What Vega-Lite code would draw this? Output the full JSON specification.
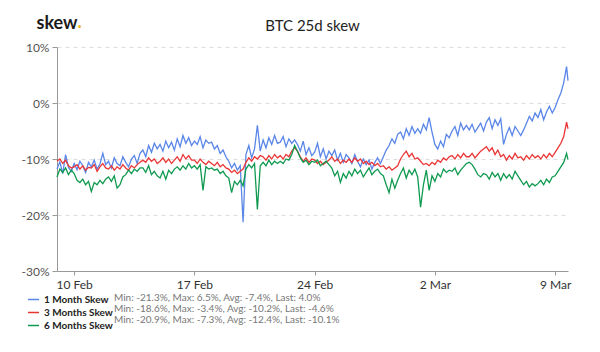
{
  "$schema": "https://vega.github.io/schema/vega-lite/v6.json",
  "width": 511,
  "height": 224,
  "autosize": {"type": "none"},
  "padding": {"left": 57, "top": 47, "right": 32, "bottom": 81},
  "background": "white",
  "config": {"font": "Lato", "view": {"stroke": null}},
  "title": {"text": "BTC 25d skew", "anchor": "middle", "font": "Lato", "fontSize": 15, "fontWeight": "normal", "color": "#222", "offset": 0, "dy": 21},
  "layer": [
    {
      "data": {"values": [
        {"t":"2020-02-09T00:00Z","m1":-11.8,"m3":-10.4,"m6":-13.2},{"t":"2020-02-09T04:00Z","m1":-10.5,"m3":-10.0,"m6":-11.8},{"t":"2020-02-09T08:00Z","m1":-12.6,"m3":-10.8,"m6":-12.4},{"t":"2020-02-09T12:00Z","m1":-9.2,"m3":-10.2,"m6":-11.6},{"t":"2020-02-09T16:00Z","m1":-11.5,"m3":-11.2,"m6":-12.8},{"t":"2020-02-09T20:00Z","m1":-12.2,"m3":-11.6,"m6":-12.0},
        {"t":"2020-02-10T00:00Z","m1":-10.8,"m3":-11.4,"m6":-12.6},{"t":"2020-02-10T04:00Z","m1":-11.9,"m3":-11.0,"m6":-13.8},{"t":"2020-02-10T08:00Z","m1":-10.4,"m3":-11.8,"m6":-14.2},{"t":"2020-02-10T12:00Z","m1":-11.2,"m3":-11.2,"m6":-13.6},{"t":"2020-02-10T16:00Z","m1":-12.4,"m3":-12.0,"m6":-14.6},{"t":"2020-02-10T20:00Z","m1":-10.6,"m3":-11.5,"m6":-14.0},
        {"t":"2020-02-11T00:00Z","m1":-11.4,"m3":-11.6,"m6":-15.8},{"t":"2020-02-11T04:00Z","m1":-10.2,"m3":-11.0,"m6":-14.2},{"t":"2020-02-11T08:00Z","m1":-11.8,"m3":-12.2,"m6":-14.6},{"t":"2020-02-11T12:00Z","m1":-10.9,"m3":-11.4,"m6":-13.8},{"t":"2020-02-11T16:00Z","m1":-9.0,"m3":-10.8,"m6":-14.4},{"t":"2020-02-11T20:00Z","m1":-11.0,"m3":-11.6,"m6":-13.6},
        {"t":"2020-02-12T00:00Z","m1":-10.4,"m3":-11.8,"m6":-13.2},{"t":"2020-02-12T04:00Z","m1":-11.6,"m3":-11.2,"m6":-14.0},{"t":"2020-02-12T08:00Z","m1":-9.8,"m3":-12.0,"m6":-13.0},{"t":"2020-02-12T12:00Z","m1":-10.8,"m3":-11.4,"m6":-15.2},{"t":"2020-02-12T16:00Z","m1":-11.2,"m3":-11.8,"m6":-14.6},{"t":"2020-02-12T20:00Z","m1":-9.6,"m3":-11.0,"m6":-13.2},
        {"t":"2020-02-13T00:00Z","m1":-10.6,"m3":-11.6,"m6":-12.8},{"t":"2020-02-13T04:00Z","m1":-11.4,"m3":-12.0,"m6":-12.0},{"t":"2020-02-13T08:00Z","m1":-10.0,"m3":-11.2,"m6":-12.6},{"t":"2020-02-13T12:00Z","m1":-9.4,"m3":-11.6,"m6":-11.8},{"t":"2020-02-13T16:00Z","m1":-10.8,"m3":-11.0,"m6":-12.2},{"t":"2020-02-13T20:00Z","m1":-9.0,"m3":-10.6,"m6":-11.6},
        {"t":"2020-02-14T00:00Z","m1":-8.4,"m3":-10.2,"m6":-11.6},{"t":"2020-02-14T04:00Z","m1":-9.6,"m3":-10.6,"m6":-12.4},{"t":"2020-02-14T08:00Z","m1":-7.6,"m3":-9.8,"m6":-11.2},{"t":"2020-02-14T12:00Z","m1":-8.8,"m3":-10.4,"m6":-12.8},{"t":"2020-02-14T16:00Z","m1":-7.2,"m3":-10.0,"m6":-12.2},{"t":"2020-02-14T20:00Z","m1":-8.2,"m3":-10.8,"m6":-13.0},
        {"t":"2020-02-15T00:00Z","m1":-7.4,"m3":-10.4,"m6":-13.4},{"t":"2020-02-15T04:00Z","m1":-8.6,"m3":-9.8,"m6":-12.2},{"t":"2020-02-15T08:00Z","m1":-6.8,"m3":-10.6,"m6":-13.6},{"t":"2020-02-15T12:00Z","m1":-8.0,"m3":-10.0,"m6":-12.0},{"t":"2020-02-15T16:00Z","m1":-7.0,"m3":-10.8,"m6":-12.6},{"t":"2020-02-15T20:00Z","m1":-8.4,"m3":-10.2,"m6":-11.8},
        {"t":"2020-02-16T00:00Z","m1":-6.4,"m3":-9.6,"m6":-11.4},{"t":"2020-02-16T04:00Z","m1":-7.8,"m3":-10.4,"m6":-12.0},{"t":"2020-02-16T08:00Z","m1":-5.8,"m3":-9.2,"m6":-11.2},{"t":"2020-02-16T12:00Z","m1":-7.2,"m3":-10.0,"m6":-11.8},{"t":"2020-02-16T16:00Z","m1":-6.2,"m3":-9.4,"m6":-10.8},{"t":"2020-02-16T20:00Z","m1":-7.6,"m3":-10.2,"m6":-11.6},
        {"t":"2020-02-17T00:00Z","m1":-6.8,"m3":-10.2,"m6":-11.2},{"t":"2020-02-17T04:00Z","m1":-7.4,"m3":-10.8,"m6":-11.8},{"t":"2020-02-17T08:00Z","m1":-6.0,"m3":-10.0,"m6":-11.0},{"t":"2020-02-17T12:00Z","m1":-8.0,"m3":-10.6,"m6":-15.6},{"t":"2020-02-17T16:00Z","m1":-6.6,"m3":-11.0,"m6":-11.4},{"t":"2020-02-17T20:00Z","m1":-7.2,"m3":-10.4,"m6":-11.8},
        {"t":"2020-02-18T00:00Z","m1":-7.0,"m3":-10.8,"m6":-11.6},{"t":"2020-02-18T04:00Z","m1":-8.2,"m3":-11.2,"m6":-12.0},{"t":"2020-02-18T08:00Z","m1":-7.6,"m3":-10.6,"m6":-11.8},{"t":"2020-02-18T12:00Z","m1":-9.0,"m3":-11.4,"m6":-12.6},{"t":"2020-02-18T16:00Z","m1":-8.4,"m3":-11.0,"m6":-12.2},{"t":"2020-02-18T20:00Z","m1":-9.6,"m3":-11.6,"m6":-13.0},
        {"t":"2020-02-19T00:00Z","m1":-10.4,"m3":-11.8,"m6":-13.4},{"t":"2020-02-19T04:00Z","m1":-11.6,"m3":-12.4,"m6":-16.0},{"t":"2020-02-19T08:00Z","m1":-10.8,"m3":-12.0,"m6":-14.0},{"t":"2020-02-19T12:00Z","m1":-12.0,"m3":-12.6,"m6":-14.6},{"t":"2020-02-19T16:00Z","m1":-11.2,"m3":-12.2,"m6":-13.8},{"t":"2020-02-19T20:00Z","m1":-21.3,"m3":-11.8,"m6":-14.8},
        {"t":"2020-02-20T00:00Z","m1":-9.2,"m3":-10.6,"m6":-11.8},{"t":"2020-02-20T04:00Z","m1":-7.6,"m3":-9.8,"m6":-11.0},{"t":"2020-02-20T08:00Z","m1":-9.8,"m3":-10.4,"m6":-11.6},{"t":"2020-02-20T12:00Z","m1":-8.2,"m3":-9.6,"m6":-10.8},{"t":"2020-02-20T16:00Z","m1":-4.0,"m3":-10.0,"m6":-19.0},{"t":"2020-02-20T20:00Z","m1":-8.6,"m3":-9.4,"m6":-11.2},
        {"t":"2020-02-21T00:00Z","m1":-6.6,"m3":-9.6,"m6":-10.6},{"t":"2020-02-21T04:00Z","m1":-8.0,"m3":-10.2,"m6":-11.2},{"t":"2020-02-21T08:00Z","m1":-6.2,"m3":-9.4,"m6":-10.2},{"t":"2020-02-21T12:00Z","m1":-7.4,"m3":-10.0,"m6":-11.0},{"t":"2020-02-21T16:00Z","m1":-5.8,"m3":-9.2,"m6":-10.4},{"t":"2020-02-21T20:00Z","m1":-7.2,"m3":-9.8,"m6":-10.8},
        {"t":"2020-02-22T00:00Z","m1":-7.0,"m3":-9.4,"m6":-10.4},{"t":"2020-02-22T04:00Z","m1":-6.0,"m3":-10.0,"m6":-10.8},{"t":"2020-02-22T08:00Z","m1":-7.8,"m3":-9.2,"m6":-10.0},{"t":"2020-02-22T12:00Z","m1":-6.4,"m3":-9.6,"m6":-10.2},{"t":"2020-02-22T16:00Z","m1":-7.2,"m3":-8.6,"m6":-9.2},{"t":"2020-02-22T20:00Z","m1":-6.6,"m3":-8.0,"m6":-7.6},
        {"t":"2020-02-23T00:00Z","m1":-7.4,"m3":-8.6,"m6":-8.6},{"t":"2020-02-23T04:00Z","m1":-8.6,"m3":-9.6,"m6":-9.8},{"t":"2020-02-23T08:00Z","m1":-6.8,"m3":-10.4,"m6":-10.6},{"t":"2020-02-23T12:00Z","m1":-9.2,"m3":-9.8,"m6":-10.2},{"t":"2020-02-23T16:00Z","m1":-8.0,"m3":-10.6,"m6":-11.0},{"t":"2020-02-23T20:00Z","m1":-9.4,"m3":-10.0,"m6":-10.4},
        {"t":"2020-02-24T00:00Z","m1":-8.8,"m3":-10.2,"m6":-10.6},{"t":"2020-02-24T04:00Z","m1":-7.2,"m3":-10.8,"m6":-10.2},{"t":"2020-02-24T08:00Z","m1":-9.6,"m3":-10.4,"m6":-11.2},{"t":"2020-02-24T12:00Z","m1":-8.2,"m3":-11.0,"m6":-10.8},{"t":"2020-02-24T16:00Z","m1":-10.0,"m3":-10.6,"m6":-10.4},{"t":"2020-02-24T20:00Z","m1":-8.6,"m3":-10.2,"m6":-11.0},
        {"t":"2020-02-25T00:00Z","m1":-9.4,"m3":-9.6,"m6":-11.6},{"t":"2020-02-25T04:00Z","m1":-8.4,"m3":-10.4,"m6":-13.0},{"t":"2020-02-25T08:00Z","m1":-10.2,"m3":-10.0,"m6":-12.2},{"t":"2020-02-25T12:00Z","m1":-9.0,"m3":-10.8,"m6":-14.2},{"t":"2020-02-25T16:00Z","m1":-10.6,"m3":-10.2,"m6":-12.6},{"t":"2020-02-25T20:00Z","m1":-9.2,"m3":-10.6,"m6":-13.4},
        {"t":"2020-02-26T00:00Z","m1":-9.8,"m3":-10.0,"m6":-12.2},{"t":"2020-02-26T04:00Z","m1":-10.8,"m3":-10.6,"m6":-13.0},{"t":"2020-02-26T08:00Z","m1":-9.2,"m3":-9.8,"m6":-11.8},{"t":"2020-02-26T12:00Z","m1":-10.4,"m3":-10.4,"m6":-12.6},{"t":"2020-02-26T16:00Z","m1":-11.4,"m3":-10.0,"m6":-12.0},{"t":"2020-02-26T20:00Z","m1":-10.0,"m3":-10.8,"m6":-13.2},
        {"t":"2020-02-27T00:00Z","m1":-11.0,"m3":-10.4,"m6":-12.4},{"t":"2020-02-27T04:00Z","m1":-10.2,"m3":-11.0,"m6":-11.6},{"t":"2020-02-27T08:00Z","m1":-11.8,"m3":-10.6,"m6":-12.8},{"t":"2020-02-27T12:00Z","m1":-10.6,"m3":-11.2,"m6":-12.2},{"t":"2020-02-27T16:00Z","m1":-9.8,"m3":-10.8,"m6":-11.8},{"t":"2020-02-27T20:00Z","m1":-10.8,"m3":-11.4,"m6":-12.6},
        {"t":"2020-02-28T00:00Z","m1":-9.6,"m3":-11.2,"m6":-13.0},{"t":"2020-02-28T04:00Z","m1":-8.4,"m3":-11.8,"m6":-14.6},{"t":"2020-02-28T08:00Z","m1":-7.6,"m3":-11.4,"m6":-16.0},{"t":"2020-02-28T12:00Z","m1":-6.4,"m3":-12.0,"m6":-13.6},{"t":"2020-02-28T16:00Z","m1":-7.2,"m3":-11.6,"m6":-15.2},{"t":"2020-02-28T20:00Z","m1":-5.6,"m3":-11.2,"m6":-13.8},
        {"t":"2020-02-29T00:00Z","m1":-5.2,"m3":-10.0,"m6":-12.6},{"t":"2020-02-29T04:00Z","m1":-6.4,"m3":-9.2,"m6":-11.6},{"t":"2020-02-29T08:00Z","m1":-4.6,"m3":-8.6,"m6":-13.4},{"t":"2020-02-29T12:00Z","m1":-5.8,"m3":-9.6,"m6":-12.0},{"t":"2020-02-29T16:00Z","m1":-4.2,"m3":-9.0,"m6":-12.8},{"t":"2020-02-29T20:00Z","m1":-5.4,"m3":-10.0,"m6":-11.8},
        {"t":"2020-03-01T00:00Z","m1":-4.6,"m3":-9.8,"m6":-13.2},{"t":"2020-03-01T04:00Z","m1":-5.4,"m3":-10.4,"m6":-18.6},{"t":"2020-03-01T08:00Z","m1":-3.8,"m3":-11.0,"m6":-14.6},{"t":"2020-03-01T12:00Z","m1":-4.8,"m3":-10.8,"m6":-12.0},{"t":"2020-03-01T16:00Z","m1":-2.6,"m3":-11.2,"m6":-15.6},{"t":"2020-03-01T20:00Z","m1":-5.2,"m3":-10.6,"m6":-13.0},
        {"t":"2020-03-02T00:00Z","m1":-7.4,"m3":-11.0,"m6":-14.0},{"t":"2020-03-02T04:00Z","m1":-8.2,"m3":-10.2,"m6":-12.6},{"t":"2020-03-02T08:00Z","m1":-6.8,"m3":-10.6,"m6":-13.2},{"t":"2020-03-02T12:00Z","m1":-7.8,"m3":-9.8,"m6":-11.8},{"t":"2020-03-02T16:00Z","m1":-5.6,"m3":-10.2,"m6":-12.4},{"t":"2020-03-02T20:00Z","m1":-6.2,"m3":-9.6,"m6":-12.0},
        {"t":"2020-03-03T00:00Z","m1":-5.0,"m3":-9.4,"m6":-12.2},{"t":"2020-03-03T04:00Z","m1":-4.2,"m3":-10.0,"m6":-11.6},{"t":"2020-03-03T08:00Z","m1":-5.8,"m3":-9.2,"m6":-12.8},{"t":"2020-03-03T12:00Z","m1":-3.6,"m3":-9.8,"m6":-12.0},{"t":"2020-03-03T16:00Z","m1":-4.8,"m3":-9.0,"m6":-11.4},{"t":"2020-03-03T20:00Z","m1":-4.0,"m3":-9.6,"m6":-10.8},
        {"t":"2020-03-04T00:00Z","m1":-4.8,"m3":-9.6,"m6":-10.6},{"t":"2020-03-04T04:00Z","m1":-3.8,"m3":-9.0,"m6":-11.0},{"t":"2020-03-04T08:00Z","m1":-5.2,"m3":-9.8,"m6":-11.8},{"t":"2020-03-04T12:00Z","m1":-4.4,"m3":-9.2,"m6":-12.8},{"t":"2020-03-04T16:00Z","m1":-3.6,"m3":-8.6,"m6":-13.2},{"t":"2020-03-04T20:00Z","m1":-5.0,"m3":-8.2,"m6":-12.6},
        {"t":"2020-03-05T00:00Z","m1":-3.4,"m3":-7.8,"m6":-12.8},{"t":"2020-03-05T04:00Z","m1":-2.6,"m3":-8.6,"m6":-13.6},{"t":"2020-03-05T08:00Z","m1":-4.6,"m3":-8.0,"m6":-12.4},{"t":"2020-03-05T12:00Z","m1":-3.0,"m3":-9.2,"m6":-13.2},{"t":"2020-03-05T16:00Z","m1":-4.0,"m3":-8.4,"m6":-12.6},{"t":"2020-03-05T20:00Z","m1":-2.8,"m3":-9.6,"m6":-13.8},
        {"t":"2020-03-06T00:00Z","m1":-7.4,"m3":-9.2,"m6":-12.6},{"t":"2020-03-06T04:00Z","m1":-5.6,"m3":-10.2,"m6":-13.4},{"t":"2020-03-06T08:00Z","m1":-4.4,"m3":-9.4,"m6":-12.8},{"t":"2020-03-06T12:00Z","m1":-5.8,"m3":-10.0,"m6":-13.6},{"t":"2020-03-06T16:00Z","m1":-4.2,"m3":-9.0,"m6":-12.2},{"t":"2020-03-06T20:00Z","m1":-5.0,"m3":-9.8,"m6":-13.0},
        {"t":"2020-03-07T00:00Z","m1":-5.8,"m3":-9.6,"m6":-13.8},{"t":"2020-03-07T04:00Z","m1":-4.8,"m3":-10.2,"m6":-14.6},{"t":"2020-03-07T08:00Z","m1":-3.6,"m3":-9.4,"m6":-14.0},{"t":"2020-03-07T12:00Z","m1":-2.4,"m3":-10.0,"m6":-15.0},{"t":"2020-03-07T16:00Z","m1":-3.2,"m3":-9.2,"m6":-14.4},{"t":"2020-03-07T20:00Z","m1":-1.8,"m3":-9.8,"m6":-14.8},
        {"t":"2020-03-08T00:00Z","m1":-2.6,"m3":-9.4,"m6":-14.4},{"t":"2020-03-08T04:00Z","m1":-1.2,"m3":-10.0,"m6":-13.8},{"t":"2020-03-08T08:00Z","m1":-3.0,"m3":-9.2,"m6":-14.6},{"t":"2020-03-08T12:00Z","m1":-1.6,"m3":-9.8,"m6":-13.6},{"t":"2020-03-08T16:00Z","m1":-0.6,"m3":-9.0,"m6":-14.2},{"t":"2020-03-08T20:00Z","m1":-1.8,"m3":-9.6,"m6":-13.2},
        {"t":"2020-03-09T00:00Z","m1":-0.8,"m3":-8.8,"m6":-13.0},{"t":"2020-03-09T04:00Z","m1":0.6,"m3":-8.0,"m6":-12.2},{"t":"2020-03-09T08:00Z","m1":1.8,"m3":-7.2,"m6":-11.4},{"t":"2020-03-09T12:00Z","m1":3.6,"m3":-6.0,"m6":-10.6},{"t":"2020-03-09T16:00Z","m1":6.5,"m3":-3.4,"m6":-9.0},{"t":"2020-03-09T18:00Z","m1":4.0,"m3":-4.6,"m6":-10.1}
      ]},
      "transform": [{"fold": ["m1", "m3", "m6"], "as": ["k", "v"]}],
      "mark": {"type": "line", "strokeWidth": 1.3, "interpolate": "linear"},
      "encoding": {
        "x": {
          "field": "t", "type": "temporal",
          "scale": {"type": "utc", "nice": false},
          "axis": {
            "title": ".", "titleColor": "#f2b418", "titleFont": "Lato", "titleFontSize": 18, "titleFontWeight": "bold",
            "titleAngle": 0, "titleAlign": "left", "titleBaseline": "alphabetic", "titleX": 20, "titleY": -244,
            "values": [
              {"year": 2020, "month": 2, "date": 10, "utc": true},
              {"year": 2020, "month": 2, "date": 17, "utc": true},
              {"year": 2020, "month": 2, "date": 24, "utc": true},
              {"year": 2020, "month": 3, "date": 2, "utc": true},
              {"year": 2020, "month": 3, "date": 9, "utc": true}
            ],
            "labelExpr": "utcFormat(datum.value, '%-d %b')",
            "grid": false, "domainColor": "#999", "tickColor": "#999", "tickSize": 4,
            "labelColor": "#333", "labelFontSize": 12, "labelFont": "Lato", "labelPadding": 4
          }
        },
        "y": {
          "field": "v", "type": "quantitative",
          "scale": {"domain": [-30, 10], "nice": false},
          "axis": {
            "title": "skew", "titleColor": "#1a1a1a", "titleFont": "Lato", "titleFontSize": 18, "titleFontWeight": "bold",
            "titleAngle": 0, "titleAlign": "left", "titleBaseline": "alphabetic", "titleX": -21, "titleY": -19,
            "values": [-30, -20, -10, 0, 10],
            "labelExpr": "datum.value + '%'",
            "grid": true, "gridDash": [4, 4], "gridColor": "#ddd",
            "domainColor": "#999", "tickColor": "#999", "tickSize": 5,
            "labelColor": "#555", "labelFontSize": 12, "labelFont": "Lato", "labelPadding": 3
          }
        },
        "color": {
          "field": "k", "type": "nominal",
          "scale": {"domain": ["m1", "m3", "m6"], "range": ["#5a86e8", "#ea3535", "#0f9a50"]},
          "legend": {
            "orient": "none", "legendX": -30, "legendY": 246, "direction": "vertical", "title": null,
            "symbolType": "stroke", "symbolSize": 121, "symbolStrokeWidth": 1.5,
            "labelExpr": "datum.value == 'm1' ? '1 Month Skew' : datum.value == 'm3' ? '3 Months Skew' : '6 Months Skew'",
            "labelFont": "Lato", "labelFontSize": 10, "labelFontWeight": "bold", "labelColor": "#222",
            "labelOffset": 4, "rowPadding": 1, "padding": 0
          }
        }
      }
    },
    {
      "data": {"values": [
        {"s": "Min: -21.3%, Max: 6.5%, Avg: -7.4%, Last: 4.0%"},
        {"s": "Min: -18.6%, Max: -3.4%, Avg: -10.2%, Last: -4.6%"},
        {"s": "Min: -20.9%, Max: -7.3%, Avg: -12.4%, Last: -10.1%"}
      ]},
      "mark": {"type": "point", "opacity": 0},
      "encoding": {
        "shape": {
          "field": "s", "type": "nominal", "sort": null,
          "legend": {
            "orient": "none", "legendX": 47, "legendY": 246, "direction": "vertical", "title": null,
            "symbolOpacity": 0, "symbolSize": 0, "symbolStrokeWidth": 0,
            "labelFont": "Lato", "labelFontSize": 10, "labelColor": "#777",
            "labelOffset": 0, "rowPadding": 1, "padding": 0, "labelLimit": 400
          }
        }
      }
    }
  ]
}
